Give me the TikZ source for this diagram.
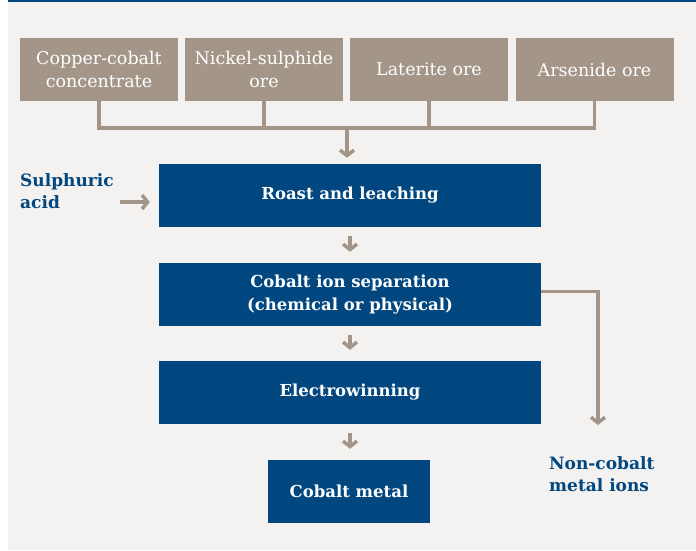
\documentclass[tikz,border=0pt]{standalone}
\usepackage{fontspec}
\setmainfont{DejaVu Serif}
\usetikzlibrary{arrows.meta}
\definecolor{cobaltblue}{RGB}{0,70,127}
\definecolor{oregrey}{RGB}{163,150,137}
\definecolor{paper}{RGB}{243,242,240}
\begin{document}
\begin{tikzpicture}[x=1pt,y=-1pt,
    orebox/.style={fill=oregrey, text=white, minimum width=158pt, minimum height=63pt,
      inner sep=0pt, align=center, font=\fontsize{17.5}{23}\selectfont},
    stagebox/.style={fill=cobaltblue, text=white, minimum width=382pt, minimum height=63pt,
      inner sep=0pt, align=center, font=\bfseries\fontsize{16.5}{23}\selectfont},
    sidelabel/.style={text=cobaltblue, align=left, inner sep=0pt,
      font=\bfseries\fontsize{17}{22}\selectfont},
    link/.style={draw=oregrey, line width=3.5pt},
    flow/.style={link, -{Straight Barb[length=5.5pt,width=14pt]}}]
  \useasboundingbox (0,0) rectangle (696,550);
  % Background and top rule
  \fill[paper] (8,0) rectangle (696,550);
  \fill[cobaltblue] (8,0) rectangle (696,2);
  % Ores
  \node[orebox] (copper) at (99,69.5) {Copper-cobalt\\concentrate};
  \node[orebox] (nickel) at (264,69.5) {Nickel-sulphide\\ore};
  \node[orebox] (laterite) at (429,69.5) {Laterite ore};
  \node[orebox] (arsenide) at (594.5,69.5) {Arsenide ore};
  % Process stages
  \node[stagebox] (roast) at (350,195.5) {Roast and leaching};
  \node[stagebox] (separation) at (350,294.5) {Cobalt ion separation\\(chemical or physical)};
  \node[stagebox] (electro) at (350,392.5) {Electrowinning};
  \node[stagebox, minimum width=162pt] (metal) at (349,491.5) {Cobalt metal};
  % Side texts
  \node[sidelabel, anchor=west] (acid) at (20,191) {Sulphuric\\acid};
  \node[sidelabel, anchor=west] (ions) at (549,474) {Non-cobalt\\metal ions};
  % Ores join
  \coordinate (join) at (347,128);
  \draw[link] (copper.south) |- (join) -| (arsenide.south);
  \draw[link] (nickel.south) -- (nickel.south |- join);
  \draw[link] (laterite.south) -- (laterite.south |- join);
  \draw[flow, shorten >=6pt] (join) -- (join |- roast.north);
  % Main flow
  \draw[flow, shorten <=9pt, shorten >=11pt] (roast) -- (separation);
  \draw[flow, shorten <=9pt, shorten >=11pt] (separation) -- (electro);
  \draw[flow, shorten <=9pt, shorten >=11pt] (electro.south) -- (electro.south |- metal.north);
  % Acid in, ions out
  \coordinate (acidin) at (120,202);
  \draw[flow, shorten >=9pt] (acidin) -- (acidin -| roast.west);
  \coordinate (ionsdrop) at (598,425);
  \draw[flow] ([yshift=3pt]separation.east) -| (ionsdrop);
\end{tikzpicture}
\end{document}
